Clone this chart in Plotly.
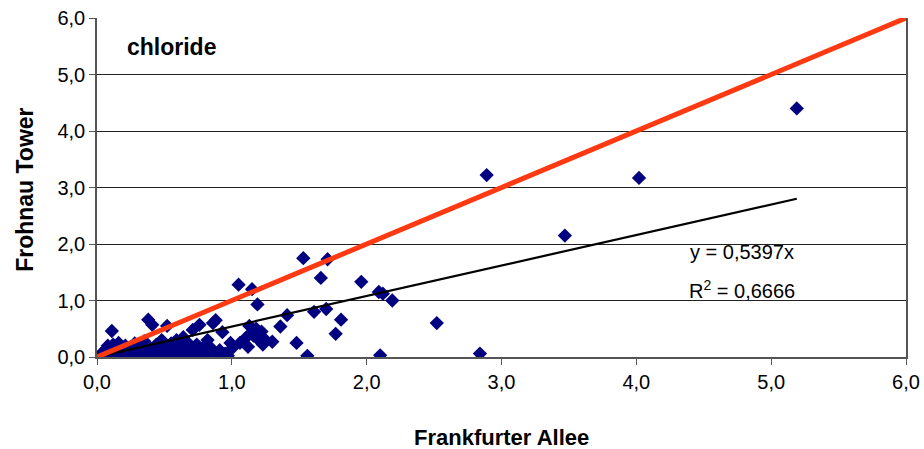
import plotly.graph_objects as go

# Data
frankfurter = [
    5.19, 2.89, 4.02, 3.47, 1.53, 1.71, 1.96, 1.66, 1.05, 1.15, 2.09, 2.12, 2.19,
    1.19, 1.81, 1.61, 1.70, 1.77, 2.52, 1.48, 1.56, 2.10, 2.84, 1.41, 1.36, 0.88,
    0.86, 0.93, 1.13, 1.18, 1.22, 1.16, 1.25, 1.20, 1.06, 1.12, 1.23, 1.30, 1.14, 1.10,
    0.02, 0.03, 0.05, 0.06, 0.07, 0.08, 0.09, 0.10, 0.11, 0.12, 0.13, 0.14, 0.15,
    0.16, 0.17, 0.18, 0.20, 0.21, 0.22, 0.24, 0.25, 0.26, 0.28, 0.29, 0.30, 0.32,
    0.33, 0.35, 0.36, 0.38, 0.40, 0.41, 0.42, 0.44, 0.45, 0.47, 0.48, 0.50, 0.52,
    0.53, 0.55, 0.56, 0.58, 0.59, 0.61, 0.62, 0.64, 0.65, 0.67, 0.68, 0.70, 0.71,
    0.73, 0.74, 0.76, 0.77, 0.79, 0.80, 0.82, 0.83, 0.85, 0.89, 0.91, 0.95, 0.97,
    0.99, 1.00,
]
frohnau = [
    4.40, 3.22, 3.17, 2.15, 1.75, 1.73, 1.33, 1.40, 1.28, 1.20, 1.15, 1.12, 1.00,
    0.93, 0.66, 0.80, 0.85, 0.41, 0.60, 0.25, 0.02, 0.03, 0.06, 0.74, 0.54, 0.65,
    0.60, 0.44, 0.55, 0.50, 0.45, 0.38, 0.30, 0.30, 0.25, 0.18, 0.22, 0.27, 0.42, 0.33,
    0.01, 0.05, 0.10, 0.02, 0.15, 0.20, 0.08, 0.04, 0.46, 0.22, 0.12, 0.18, 0.03,
    0.25, 0.10, 0.15, 0.05, 0.20, 0.12, 0.02, 0.18, 0.08, 0.24, 0.14, 0.04, 0.20,
    0.10, 0.28, 0.02, 0.66, 0.15, 0.57, 0.06, 0.22, 0.12, 0.03, 0.30, 0.18, 0.55,
    0.08, 0.24, 0.02, 0.14, 0.30, 0.05, 0.20, 0.35, 0.10, 0.26, 0.02, 0.16, 0.48,
    0.07, 0.22, 0.57, 0.12, 0.03, 0.20, 0.30, 0.08, 0.15, 0.04, 0.12, 0.06, 0.02,
    0.25, 0.15,
]
trend_slope = 0.5397
r_squared = 0.6666
identity_line = [0.0, 6.0]
tick_values = [0, 1, 2, 3, 4, 5, 6]
x_title = "Frankfurter Allee"
y_title = "Frohnau Tower"
chart_label = "chloride"

FONT = "Arial, Liberation Sans, sans-serif"

x_max = max(frankfurter)

fig = go.Figure()
fig.add_trace(go.Scatter(
    x=frankfurter, y=frohnau, mode="markers",
    marker=dict(symbol="diamond", size=11, color="#000080", line=dict(width=0)),
    showlegend=False, hoverinfo="x+y",
))
fig.add_trace(go.Scatter(
    x=[0, x_max], y=[0, trend_slope * x_max], mode="lines",
    line=dict(color="black", width=2.2), showlegend=False,
))
fig.add_trace(go.Scatter(
    x=identity_line, y=identity_line, mode="lines",
    line=dict(color="#FF3A12", width=5), showlegend=False,
))

axis_common = dict(
    range=[0, 6], tickvals=tick_values, tickformat=".1f",
    ticks="outside", ticklen=6, tickcolor="#555555",
    showline=True, linecolor="#555555", linewidth=1.5,
    tickfont=dict(family=FONT, size=20, color="black"),
    zeroline=False, automargin=False,
)

fig.update_xaxes(**axis_common, showgrid=False, mirror=False)
fig.update_yaxes(**axis_common, showgrid=True, gridcolor="#222222", gridwidth=1,
                 mirror=True)

fig.add_annotation(
    x=0.5, y=-0.236, xref="paper", yref="paper", xanchor="center", yanchor="middle",
    text="<b>" + x_title + "</b>", showarrow=False,
    font=dict(family=FONT, size=22, color="black"),
)
fig.add_annotation(
    x=-0.089, y=0.493, xref="paper", yref="paper", xanchor="center", yanchor="middle",
    text="<b>" + y_title + "</b>", showarrow=False, textangle=-90,
    font=dict(family=FONT, size=23, color="black"),
)
fig.add_annotation(
    x=0.035, y=0.96, xref="paper", yref="paper", xanchor="left", yanchor="top",
    text="<b>" + chart_label + "</b>", showarrow=False,
    font=dict(family=FONT, size=23, color="black"),
)
fig.add_annotation(
    x=4.78, y=1.85, xref="x", yref="y", xanchor="center", yanchor="middle",
    text="y = " + f"{trend_slope:.4f}".replace(".", ",") + "x",
    showarrow=False, font=dict(family=FONT, size=20, color="black"),
)
fig.add_annotation(
    x=4.78, y=1.20, xref="x", yref="y", xanchor="center", yanchor="middle",
    text="R<sup>2</sup> = " + f"{r_squared:.4f}".replace(".", ","),
    showarrow=False, font=dict(family=FONT, size=20, color="black"),
)

fig.update_layout(
    width=924, height=449,
    margin=dict(l=97, r=18, t=18, b=92),
    paper_bgcolor="white", plot_bgcolor="white",
    separators=",.",
)

fig.write_html("out.html")
